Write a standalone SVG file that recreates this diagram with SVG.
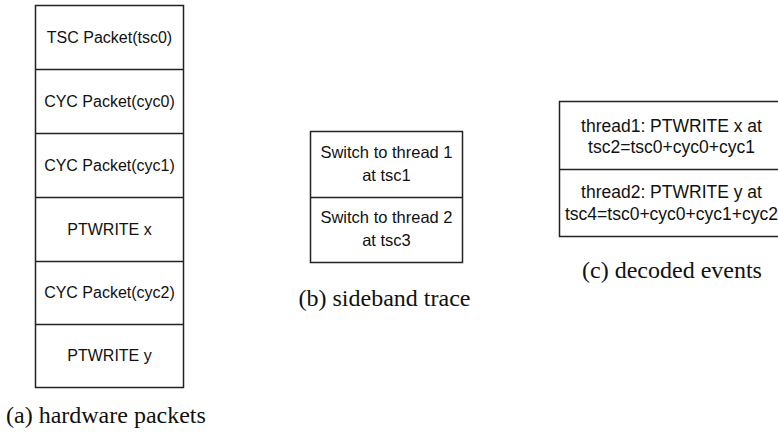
<svg xmlns="http://www.w3.org/2000/svg" width="778" height="433" viewBox="0 0 778 433">
<style>
.box{fill:#fff;stroke:#222;stroke-width:1.5}
.div{stroke:#222;stroke-width:1.5}
.t{font-family:"Liberation Sans",Arial,sans-serif;fill:#111;text-anchor:middle}
.cap{font-family:"Liberation Serif","Times New Roman",serif;font-size:24px;fill:#111}
</style>
<rect width="778" height="433" fill="#fff"/>
<g id="hw-packets">
<rect class="box" x="35.5" y="5.5" width="148" height="382"/>
<line class="div" x1="35.5" y1="69.5" x2="183.5" y2="69.5"/>
<line class="div" x1="35.5" y1="133.5" x2="183.5" y2="133.5"/>
<line class="div" x1="35.5" y1="197.5" x2="183.5" y2="197.5"/>
<line class="div" x1="35.5" y1="261.5" x2="183.5" y2="261.5"/>
<line class="div" x1="35.5" y1="324.5" x2="183.5" y2="324.5"/>
<g class="t" font-size="16">
<text x="109.5" y="43">TSC Packet(tsc0)</text>
<text x="109.5" y="107">CYC Packet(cyc0)</text>
<text x="109.5" y="171">CYC Packet(cyc1)</text>
<text x="109.5" y="235">PTWRITE x</text>
<text x="109.5" y="298">CYC Packet(cyc2)</text>
<text x="109.5" y="361">PTWRITE y</text>
</g>
<text class="cap" x="6" y="423">(a) hardware packets</text>
</g>
<g id="sideband">
<rect class="box" x="310.5" y="131.5" width="152" height="131"/>
<line class="div" x1="310.5" y1="197.5" x2="462.5" y2="197.5"/>
<g class="t" font-size="16.5">
<text x="386.5" y="158">Switch to thread 1</text>
<text x="386.5" y="181">at tsc1</text>
<text x="386.5" y="223">Switch to thread 2</text>
<text x="386.5" y="246">at tsc3</text>
</g>
<text class="cap" x="384.5" y="306" text-anchor="middle">(b) sideband trace</text>
</g>
<g id="decoded">
<rect class="box" x="559.5" y="101.5" width="226" height="135"/>
<line class="div" x1="559.5" y1="169.5" x2="785.5" y2="169.5"/>
<g class="t" font-size="17.5">
<text x="671.5" y="132">thread1: PTWRITE x at</text>
<text x="671.5" y="153">tsc2=tsc0+cyc0+cyc1</text>
<text x="671.5" y="198">thread2: PTWRITE y at</text>
<text x="671.5" y="220">tsc4=tsc0+cyc0+cyc1+cyc2</text>
</g>
<text class="cap" x="672" y="278" text-anchor="middle">(c) decoded events</text>
</g>
<g id="connectors"/>
</svg>
